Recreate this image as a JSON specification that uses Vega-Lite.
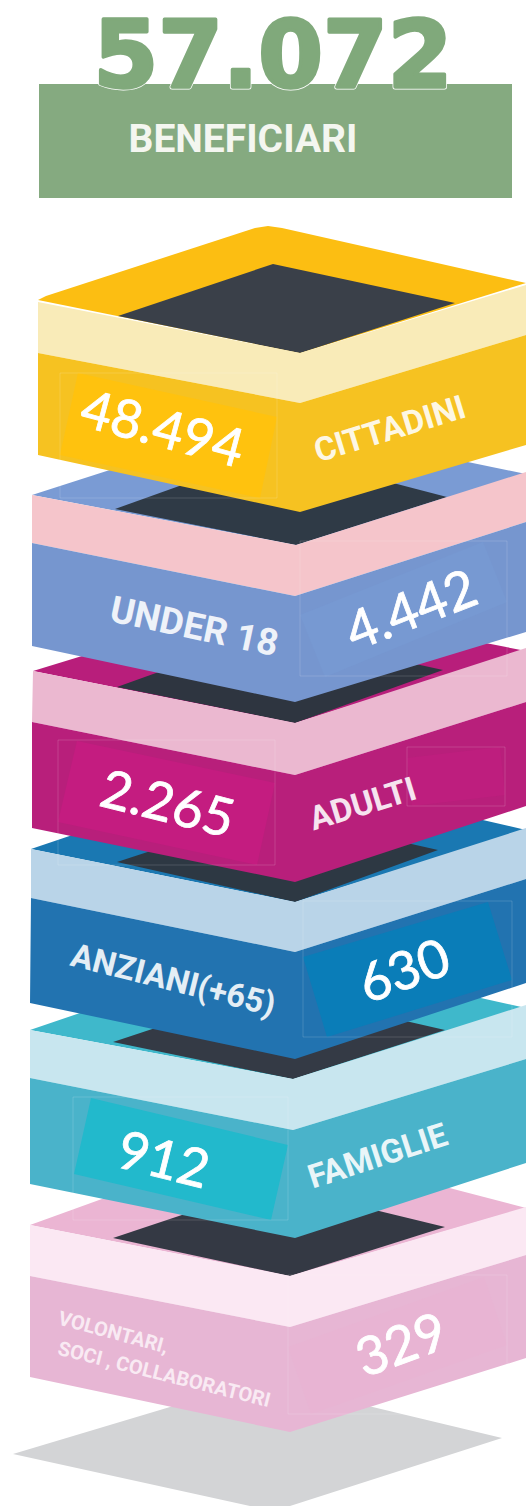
{
"$schema":"https://vega.github.io/schema/vega-lite/v6.json",
"autosize":{"type":"fit","contains":"padding"},"width":526,"height":1506,"padding":0,"background":"#ffffff",
"config":{"view":{"stroke":null}},
"datasets":{
"shapes":[
{"s":"shadow","x":13,"y":1454},{"s":"shadow","x":260,"y":1380},{"s":"shadow","x":502,"y":1438},{"s":"shadow","x":290,"y":1506},{"s":"shadow","x":250,"y":1506},
{"s":"header","x":39,"y":84},{"s":"header","x":512,"y":84},{"s":"header","x":512,"y":198},{"s":"header","x":39,"y":198},
{"s":"vol top","x":30,"y":1225},{"s":"vol top","x":265,"y":1140},{"s":"vol top","x":526,"y":1208},{"s":"vol top","x":290,"y":1276},
{"s":"vol dark","x":113,"y":1238},{"s":"vol dark","x":272,"y":1185},{"s":"vol dark","x":445,"y":1227},{"s":"vol dark","x":290,"y":1276},
{"s":"vol band","x":30,"y":1225},{"s":"vol band","x":290,"y":1276},{"s":"vol band","x":526,"y":1207},{"s":"vol band","x":526,"y":1255},{"s":"vol band","x":290,"y":1327},{"s":"vol band","x":30,"y":1276},
{"s":"vol body","x":30,"y":1276},{"s":"vol body","x":290,"y":1327},{"s":"vol body","x":526,"y":1255},{"s":"vol body","x":526,"y":1358},{"s":"vol body","x":290,"y":1432},{"s":"vol body","x":30,"y":1377},
{"s":"vol tag","x":288,"y":1347},{"s":"vol tag","x":484,"y":1277},{"s":"vol tag","x":507,"y":1345},{"s":"vol tag","x":311,"y":1414},
{"s":"fam top","x":30,"y":1030},{"s":"fam top","x":265,"y":950},{"s":"fam top","x":526,"y":1008},{"s":"fam top","x":293,"y":1079},
{"s":"fam dark","x":113,"y":1042},{"s":"fam dark","x":270,"y":990},{"s":"fam dark","x":445,"y":1030},{"s":"fam dark","x":293,"y":1079},
{"s":"fam band","x":30,"y":1030},{"s":"fam band","x":293,"y":1079},{"s":"fam band","x":526,"y":1005},{"s":"fam band","x":526,"y":1059},{"s":"fam band","x":293,"y":1130},{"s":"fam band","x":30,"y":1078},
{"s":"fam body","x":30,"y":1078},{"s":"fam body","x":293,"y":1130},{"s":"fam body","x":526,"y":1059},{"s":"fam body","x":526,"y":1163},{"s":"fam body","x":295,"y":1238},{"s":"fam body","x":30,"y":1184},
{"s":"fam tag","x":91,"y":1098},{"s":"fam tag","x":288,"y":1145},{"s":"fam tag","x":271,"y":1220},{"s":"fam tag","x":74,"y":1174},
{"s":"anz top","x":31,"y":849},{"s":"anz top","x":265,"y":770},{"s":"anz top","x":526,"y":830},{"s":"anz top","x":295,"y":902},
{"s":"anz dark","x":117,"y":862},{"s":"anz dark","x":270,"y":812},{"s":"anz dark","x":438,"y":850},{"s":"anz dark","x":295,"y":902},
{"s":"anz band","x":31,"y":849},{"s":"anz band","x":295,"y":902},{"s":"anz band","x":526,"y":828},{"s":"anz band","x":526,"y":879},{"s":"anz band","x":295,"y":952},{"s":"anz band","x":31,"y":898},
{"s":"anz body","x":31,"y":898},{"s":"anz body","x":295,"y":952},{"s":"anz body","x":526,"y":879},{"s":"anz body","x":526,"y":983},{"s":"anz body","x":295,"y":1059},{"s":"anz body","x":30,"y":1003},
{"s":"anz tag","x":303,"y":957},{"s":"anz tag","x":488,"y":902},{"s":"anz tag","x":512,"y":980},{"s":"anz tag","x":327,"y":1037},
{"s":"adu top","x":33,"y":671},{"s":"adu top","x":265,"y":600},{"s":"adu top","x":526,"y":651},{"s":"adu top","x":295,"y":723},
{"s":"adu dark","x":117,"y":687},{"s":"adu dark","x":270,"y":632},{"s":"adu dark","x":443,"y":670},{"s":"adu dark","x":295,"y":723},
{"s":"adu band","x":33,"y":671},{"s":"adu band","x":295,"y":723},{"s":"adu band","x":526,"y":648},{"s":"adu band","x":526,"y":702},{"s":"adu band","x":295,"y":775},{"s":"adu band","x":32,"y":722},
{"s":"adu body","x":32,"y":722},{"s":"adu body","x":295,"y":775},{"s":"adu body","x":526,"y":702},{"s":"adu body","x":526,"y":806},{"s":"adu body","x":295,"y":882},{"s":"adu body","x":32,"y":828},
{"s":"adu tag","x":77,"y":741},{"s":"adu tag","x":275,"y":783},{"s":"adu tag","x":257,"y":865},{"s":"adu tag","x":58,"y":822},
{"s":"adu tag2","x":407,"y":758},{"s":"adu tag2","x":500,"y":747},{"s":"adu tag2","x":505,"y":795},{"s":"adu tag2","x":412,"y":806},
{"s":"und top","x":32,"y":495},{"s":"und top","x":265,"y":420},{"s":"und top","x":526,"y":474},{"s":"und top","x":296,"y":545},
{"s":"und dark","x":115,"y":509},{"s":"und dark","x":274,"y":452},{"s":"und dark","x":447,"y":497},{"s":"und dark","x":296,"y":545},
{"s":"und band","x":32,"y":495},{"s":"und band","x":296,"y":545},{"s":"und band","x":526,"y":472},{"s":"und band","x":526,"y":522},{"s":"und band","x":295,"y":596},{"s":"und band","x":32,"y":543},
{"s":"und body","x":32,"y":543},{"s":"und body","x":295,"y":596},{"s":"und body","x":526,"y":522},{"s":"und body","x":526,"y":632},{"s":"und body","x":295,"y":702},{"s":"und body","x":32,"y":646},
{"s":"und tag","x":300,"y":615},{"s":"und tag","x":483,"y":542},{"s":"und tag","x":507,"y":602},{"s":"und tag","x":325,"y":677},
{"s":"cit top","x":38,"y":300},{"s":"cit top","x":46,"y":296},{"s":"cit top","x":255,"y":228},{"s":"cit top","x":268,"y":226},{"s":"cit top","x":282,"y":228},{"s":"cit top","x":526,"y":283},{"s":"cit top","x":300,"y":353},
{"s":"cit dark","x":118,"y":316},{"s":"cit dark","x":273,"y":264},{"s":"cit dark","x":455,"y":303},{"s":"cit dark","x":300,"y":353},
{"s":"cit band","x":38,"y":302},{"s":"cit band","x":300,"y":353},{"s":"cit band","x":526,"y":285},{"s":"cit band","x":526,"y":335},{"s":"cit band","x":300,"y":403},{"s":"cit band","x":38,"y":353},
{"s":"cit body","x":38,"y":353},{"s":"cit body","x":300,"y":403},{"s":"cit body","x":526,"y":335},{"s":"cit body","x":526,"y":445},{"s":"cit body","x":300,"y":512},{"s":"cit body","x":38,"y":455},
{"s":"cit tag","x":78,"y":373},{"s":"cit tag","x":277,"y":417},{"s":"cit tag","x":260,"y":498},{"s":"cit tag","x":60,"y":455}
],
"frames":[
{"f":"a","x":60,"y":373},{"f":"a","x":277,"y":373},{"f":"a","x":277,"y":498},{"f":"a","x":60,"y":498},
{"f":"b","x":300,"y":541},{"f":"b","x":507,"y":541},{"f":"b","x":507,"y":676},{"f":"b","x":300,"y":676},
{"f":"c","x":58,"y":740},{"f":"c","x":275,"y":740},{"f":"c","x":275,"y":865},{"f":"c","x":58,"y":865},
{"f":"d","x":407,"y":747},{"f":"d","x":505,"y":747},{"f":"d","x":505,"y":806},{"f":"d","x":407,"y":806},
{"f":"e","x":303,"y":901},{"f":"e","x":512,"y":901},{"f":"e","x":512,"y":1037},{"f":"e","x":303,"y":1037},
{"f":"g","x":73,"y":1097},{"f":"g","x":288,"y":1097},{"f":"g","x":288,"y":1220},{"f":"g","x":73,"y":1220},
{"f":"h","x":288,"y":1275},{"f":"h","x":507,"y":1275},{"f":"h","x":507,"y":1414},{"f":"h","x":288,"y":1414}
],
"values":[
{"t":"48.494","x":162,"y":431,"tilt":15},{"t":"4.442","x":412,"y":612,"tilt":-21},{"t":"2.265","x":167,"y":806,"tilt":14},
{"t":"630","x":405,"y":973,"tilt":-20},{"t":"912","x":163,"y":1162,"tilt":14},{"t":"329","x":402,"y":1347,"tilt":-20}
],
"namesShort":[
{"t":"CITTADINI","x":390,"y":430,"tilt":-17},{"t":"ADULTI","x":363,"y":805,"tilt":-17},{"t":"FAMIGLIE","x":378,"y":1157,"tilt":-18},{"t":"ANZIANI(+65)","x":173,"y":981,"tilt":14}
],
"namesLong":[
{"t":"UNDER 18","x":194,"y":628,"tilt":12}
],
"small":[
{"t":"VOLONTARI,","x":113,"y":1333,"tilt":15},{"t":"SOCI , COLLABORATORI","x":164,"y":1375,"tilt":14}
],
"total":[{"t":"57.072","x":273,"y":87}]
},
"layer":[
{"data":{"name":"shapes"},
"mark":{"type":"line","filled":true,"interpolate":"linear-closed","strokeWidth":0},
"encoding":{
"x":{"field":"x","type":"quantitative","scale":{"domain":[0,526],"nice":false,"zero":false},"axis":null},
"y":{"field":"y","type":"quantitative","scale":{"domain":[1506,0],"nice":false,"zero":false},"axis":null},
"order":{"value":null},
"detail":{"field":"s"},
"fill":{"field":"s","type":"nominal","legend":null,"scale":{
"domain":["shadow","header","vol top","vol dark","vol band","vol body","vol tag","fam top","fam dark","fam band","fam body","fam tag","anz top","anz dark","anz band","anz body","anz tag","adu top","adu dark","adu band","adu body","adu tag","adu tag2","und top","und dark","und band","und body","und tag","cit top","cit dark","cit band","cit body","cit tag"],
"range":["#d3d4d6","#85aa80","#ebb5d3","#343944","#fbe8f3","#e7b6d4","#e8b4d3","#3fb8cb","#343a45","#c8e6ef","#4ab3ca","#22b9cc","#1a78b2","#2d3843","#b9d4e8","#2273b0","#0a7db8","#b81e7b","#2e3540","#ebb8d0","#b81f7b","#c41c80","#be1e7e","#7a9bd4","#2f3a46","#f5c5cb","#7696cf","#7799d2","#fcbe12","#3a4049","#f9ebb8","#f6c221","#ffc20e"]}}
}},
{"data":{"name":"frames"},
"mark":{"type":"line","interpolate":"linear-closed","stroke":"#ffffff","strokeWidth":0.7,"opacity":0.22},
"encoding":{
"x":{"field":"x","type":"quantitative","scale":{"domain":[0,526],"nice":false,"zero":false},"axis":null},
"y":{"field":"y","type":"quantitative","scale":{"domain":[1506,0],"nice":false,"zero":false},"axis":null},
"order":{"value":null},
"detail":{"field":"f"}
}},
{"data":{"name":"total"},
"mark":{"type":"text","font":"DejaVu Sans","fontWeight":"bold","fontSize":93,"fill":"#ffffff","stroke":"#ffffff","strokeWidth":5,"strokeJoin":"round","align":"center","baseline":"alphabetic"},
"encoding":{"x":{"field":"x","type":"quantitative","axis":null},"y":{"field":"y","type":"quantitative","axis":null},"text":{"field":"t"}}},
{"data":{"name":"total"},
"mark":{"type":"text","font":"DejaVu Sans","fontWeight":"bold","fontSize":93,"fill":"#80a97b","stroke":"#80a97b","strokeWidth":3.5,"strokeJoin":"round","align":"center","baseline":"alphabetic"},
"encoding":{"x":{"field":"x","type":"quantitative","axis":null},"y":{"field":"y","type":"quantitative","axis":null},"text":{"field":"t"}}},
{"data":{"values":[{"t":"BENEFICIARI","x":243,"y":140}]},
"mark":{"type":"text","font":"Roboto","fontWeight":"bold","fontSize":39,"fill":"#f4f6f0","align":"center","baseline":"middle"},
"encoding":{"x":{"field":"x","type":"quantitative","axis":null},"y":{"field":"y","type":"quantitative","axis":null},"text":{"field":"t"}}},
{"data":{"name":"values"},
"mark":{"type":"text","font":"Lato","fontSize":53,"fill":"#ffffff","stroke":"#ffffff","strokeWidth":0.8,"align":"center","baseline":"middle"},
"encoding":{"x":{"field":"x","type":"quantitative","axis":null},"y":{"field":"y","type":"quantitative","axis":null},"text":{"field":"t"},"angle":{"field":"tilt","type":"quantitative","scale":null}}},
{"data":{"name":"namesShort"},
"mark":{"type":"text","font":"Roboto","fontWeight":"bold","fontSize":33,"fill":"#ffffff","opacity":0.88,"align":"center","baseline":"middle"},
"encoding":{"x":{"field":"x","type":"quantitative","axis":null},"y":{"field":"y","type":"quantitative","axis":null},"text":{"field":"t"},"angle":{"field":"tilt","type":"quantitative","scale":null}}},
{"data":{"name":"namesLong"},
"mark":{"type":"text","font":"Roboto","fontWeight":"bold","fontSize":37,"fill":"#ffffff","opacity":0.88,"align":"center","baseline":"middle"},
"encoding":{"x":{"field":"x","type":"quantitative","axis":null},"y":{"field":"y","type":"quantitative","axis":null},"text":{"field":"t"},"angle":{"field":"tilt","type":"quantitative","scale":null}}},
{"data":{"name":"small"},
"mark":{"type":"text","font":"Roboto","fontWeight":"bold","fontSize":20,"fill":"#f9eaf3","align":"center","baseline":"middle"},
"encoding":{"x":{"field":"x","type":"quantitative","axis":null},"y":{"field":"y","type":"quantitative","axis":null},"text":{"field":"t"},"angle":{"field":"tilt","type":"quantitative","scale":null}}}
]
}
